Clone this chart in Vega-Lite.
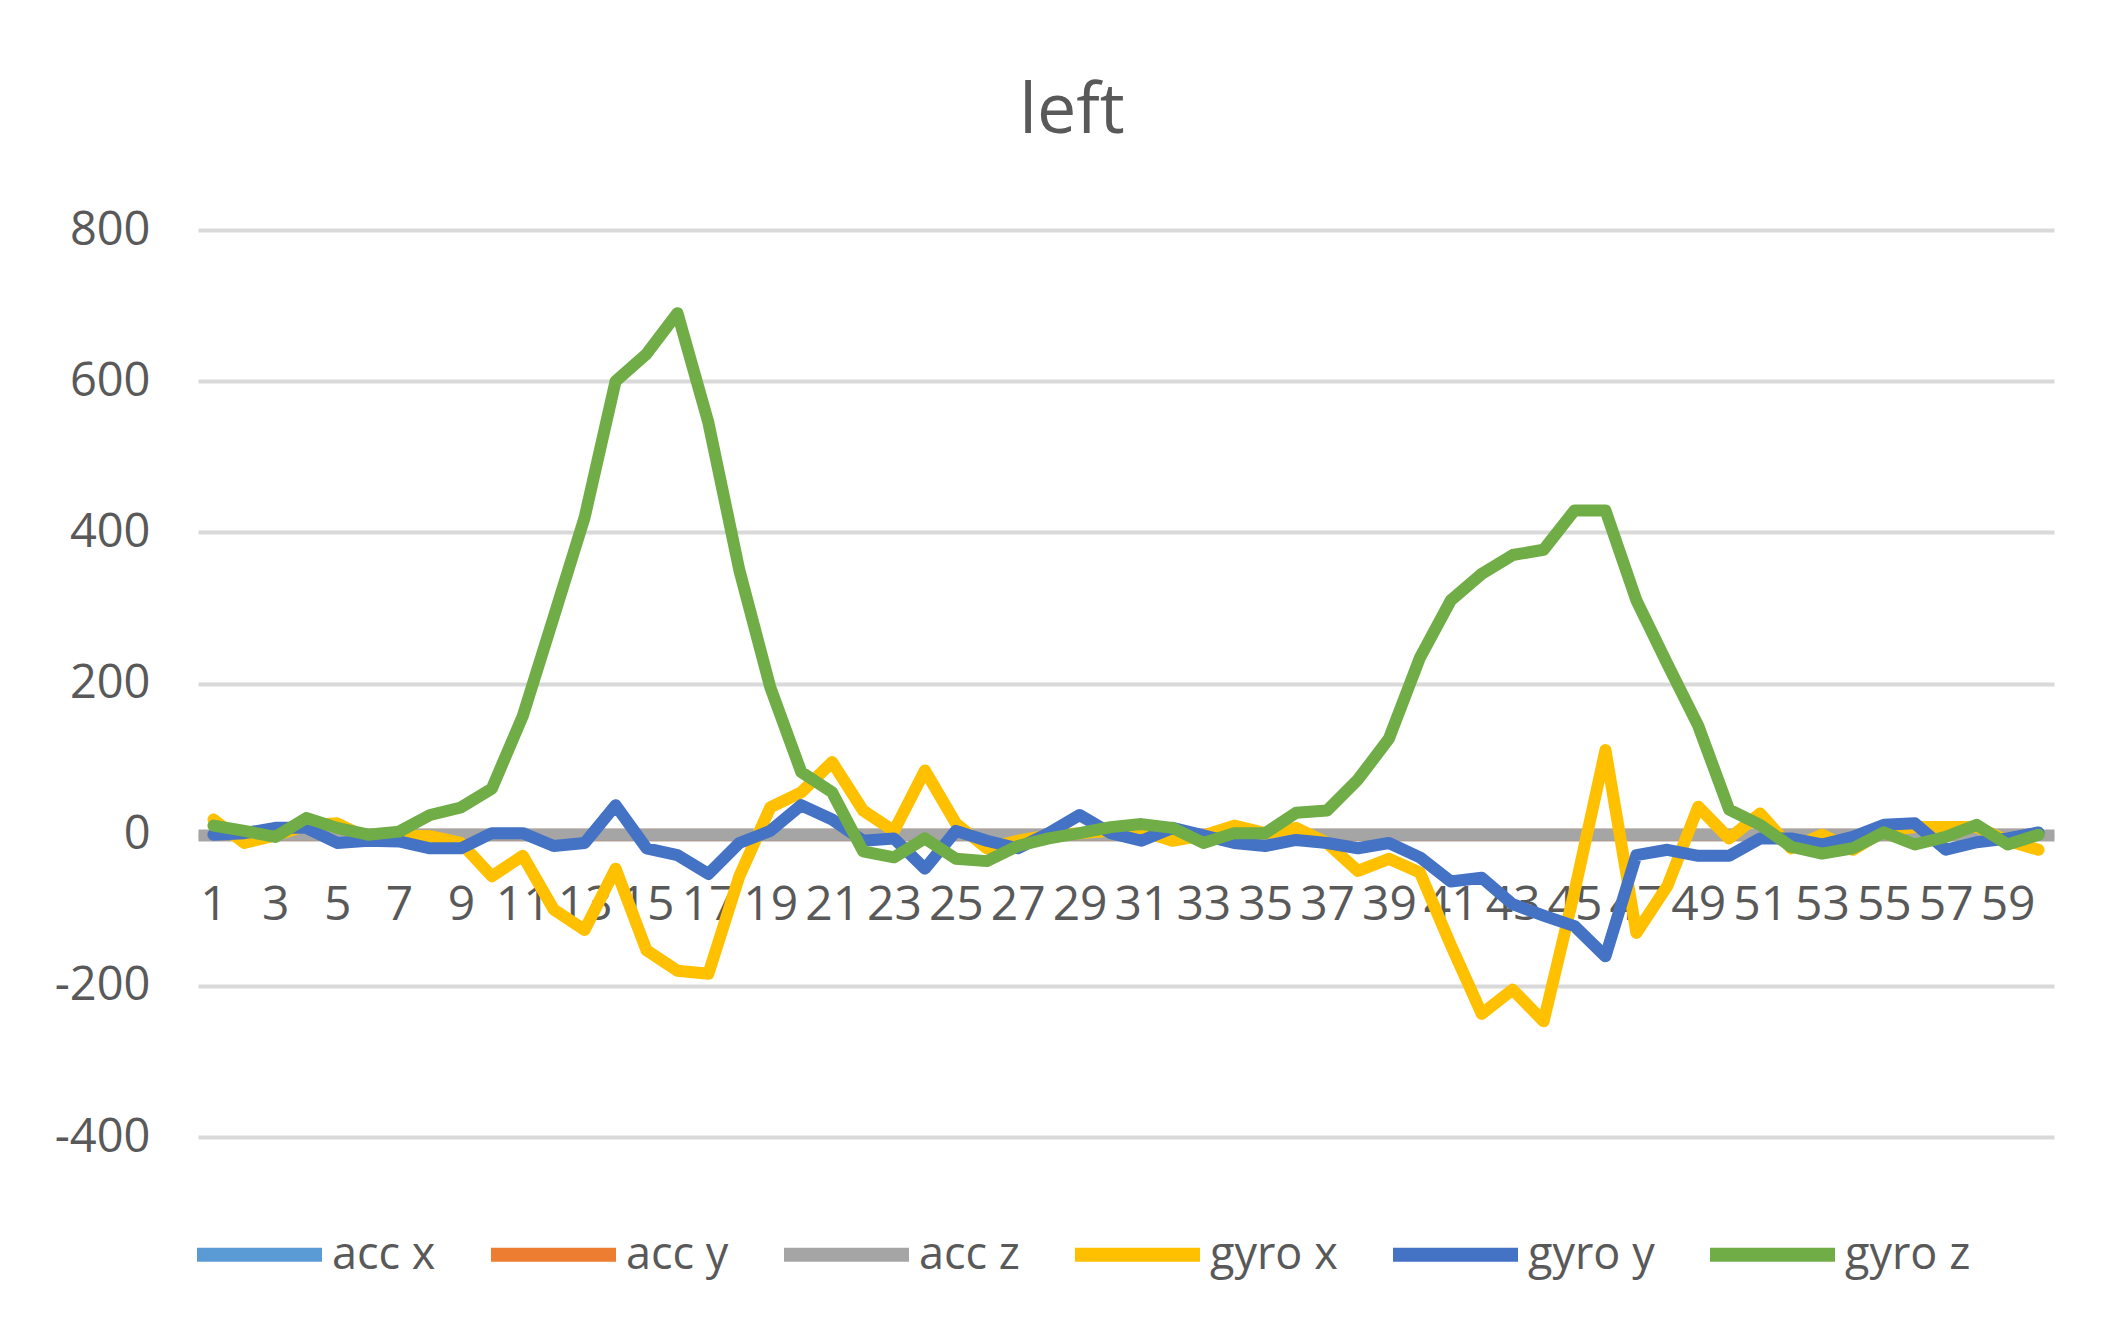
{
  "$schema": "https://vega.github.io/schema/vega-lite/v6.json",
  "width": 1856,
  "height": 907,
  "autosize": {"type": "none"},
  "padding": {"left": 198, "top": 230, "right": 56, "bottom": 192},
  "background": "white",
  "title": {"text": "left", "fontSize": 70, "font": "Open Sans", "color": "#595959", "fontWeight": "normal", "anchor": "middle", "frame": "group", "offset": 3, "baseline": "alphabetic", "dx": -54},
  "config": {"view": {"stroke": null}},
  "data": {"values": [
    {"t":1,"acc x":0,"acc y":0,"acc z":0,"gyro x":20,"gyro y":0,"gyro z":12},
    {"t":2,"acc x":0,"acc y":0,"acc z":0,"gyro x":-11,"gyro y":2,"gyro z":5},
    {"t":3,"acc x":0,"acc y":0,"acc z":0,"gyro x":-1,"gyro y":9,"gyro z":-3},
    {"t":4,"acc x":0,"acc y":0,"acc z":0,"gyro x":12,"gyro y":9,"gyro z":22},
    {"t":5,"acc x":0,"acc y":0,"acc z":0,"gyro x":15,"gyro y":-11,"gyro z":9},
    {"t":6,"acc x":0,"acc y":0,"acc z":0,"gyro x":-5,"gyro y":-8,"gyro z":0},
    {"t":7,"acc x":0,"acc y":0,"acc z":0,"gyro x":-1,"gyro y":-9,"gyro z":4},
    {"t":8,"acc x":0,"acc y":0,"acc z":0,"gyro x":-2,"gyro y":-18,"gyro z":26},
    {"t":9,"acc x":0,"acc y":0,"acc z":0,"gyro x":-11,"gyro y":-18,"gyro z":36},
    {"t":10,"acc x":0,"acc y":0,"acc z":0,"gyro x":-55,"gyro y":2,"gyro z":61},
    {"t":11,"acc x":0,"acc y":0,"acc z":0,"gyro x":-28,"gyro y":2,"gyro z":157},
    {"t":12,"acc x":0,"acc y":0,"acc z":0,"gyro x":-99,"gyro y":-15,"gyro z":288},
    {"t":13,"acc x":0,"acc y":0,"acc z":0,"gyro x":-126,"gyro y":-11,"gyro z":420},
    {"t":14,"acc x":0,"acc y":0,"acc z":0,"gyro x":-45,"gyro y":39,"gyro z":600},
    {"t":15,"acc x":0,"acc y":0,"acc z":0,"gyro x":-153,"gyro y":-18,"gyro z":636},
    {"t":16,"acc x":0,"acc y":0,"acc z":0,"gyro x":-180,"gyro y":-27,"gyro z":690},
    {"t":17,"acc x":0,"acc y":0,"acc z":0,"gyro x":-184,"gyro y":-52,"gyro z":545},
    {"t":18,"acc x":0,"acc y":0,"acc z":0,"gyro x":-55,"gyro y":-11,"gyro z":350},
    {"t":19,"acc x":0,"acc y":0,"acc z":0,"gyro x":36,"gyro y":5,"gyro z":195},
    {"t":20,"acc x":0,"acc y":0,"acc z":0,"gyro x":56,"gyro y":39,"gyro z":83},
    {"t":21,"acc x":0,"acc y":0,"acc z":0,"gyro x":96,"gyro y":20,"gyro z":56},
    {"t":22,"acc x":0,"acc y":0,"acc z":0,"gyro x":32,"gyro y":-8,"gyro z":-22},
    {"t":23,"acc x":0,"acc y":0,"acc z":0,"gyro x":5,"gyro y":-5,"gyro z":-30},
    {"t":24,"acc x":0,"acc y":0,"acc z":0,"gyro x":85,"gyro y":-45,"gyro z":-5},
    {"t":25,"acc x":0,"acc y":0,"acc z":0,"gyro x":15,"gyro y":5,"gyro z":-32},
    {"t":26,"acc x":0,"acc y":0,"acc z":0,"gyro x":-18,"gyro y":-8,"gyro z":-35},
    {"t":27,"acc x":0,"acc y":0,"acc z":0,"gyro x":-8,"gyro y":-18,"gyro z":-15},
    {"t":28,"acc x":0,"acc y":0,"acc z":0,"gyro x":-1,"gyro y":2,"gyro z":-5},
    {"t":29,"acc x":0,"acc y":0,"acc z":0,"gyro x":2,"gyro y":26,"gyro z":2},
    {"t":30,"acc x":0,"acc y":0,"acc z":0,"gyro x":5,"gyro y":2,"gyro z":10},
    {"t":31,"acc x":0,"acc y":0,"acc z":0,"gyro x":5,"gyro y":-8,"gyro z":14},
    {"t":32,"acc x":0,"acc y":0,"acc z":0,"gyro x":-8,"gyro y":9,"gyro z":9},
    {"t":33,"acc x":0,"acc y":0,"acc z":0,"gyro x":-1,"gyro y":-1,"gyro z":-11},
    {"t":34,"acc x":0,"acc y":0,"acc z":0,"gyro x":12,"gyro y":-11,"gyro z":2},
    {"t":35,"acc x":0,"acc y":0,"acc z":0,"gyro x":2,"gyro y":-15,"gyro z":2},
    {"t":36,"acc x":0,"acc y":0,"acc z":0,"gyro x":9,"gyro y":-7,"gyro z":29},
    {"t":37,"acc x":0,"acc y":0,"acc z":0,"gyro x":-11,"gyro y":-11,"gyro z":32},
    {"t":38,"acc x":0,"acc y":0,"acc z":0,"gyro x":-48,"gyro y":-18,"gyro z":73},
    {"t":39,"acc x":0,"acc y":0,"acc z":0,"gyro x":-32,"gyro y":-11,"gyro z":127},
    {"t":40,"acc x":0,"acc y":0,"acc z":0,"gyro x":-50,"gyro y":-30,"gyro z":234},
    {"t":41,"acc x":0,"acc y":0,"acc z":0,"gyro x":-146,"gyro y":-62,"gyro z":310},
    {"t":42,"acc x":0,"acc y":0,"acc z":0,"gyro x":-237,"gyro y":-57,"gyro z":345},
    {"t":43,"acc x":0,"acc y":0,"acc z":0,"gyro x":-205,"gyro y":-92,"gyro z":370},
    {"t":44,"acc x":0,"acc y":0,"acc z":0,"gyro x":-247,"gyro y":-107,"gyro z":377},
    {"t":45,"acc x":0,"acc y":0,"acc z":0,"gyro x":-75,"gyro y":-121,"gyro z":429},
    {"t":46,"acc x":0,"acc y":0,"acc z":0,"gyro x":112,"gyro y":-161,"gyro z":429},
    {"t":47,"acc x":0,"acc y":0,"acc z":0,"gyro x":-130,"gyro y":-27,"gyro z":310},
    {"t":48,"acc x":0,"acc y":0,"acc z":0,"gyro x":-68,"gyro y":-20,"gyro z":226},
    {"t":49,"acc x":0,"acc y":0,"acc z":0,"gyro x":37,"gyro y":-28,"gyro z":144},
    {"t":50,"acc x":0,"acc y":0,"acc z":0,"gyro x":-5,"gyro y":-28,"gyro z":33},
    {"t":51,"acc x":0,"acc y":0,"acc z":0,"gyro x":28,"gyro y":-5,"gyro z":13},
    {"t":52,"acc x":0,"acc y":0,"acc z":0,"gyro x":-18,"gyro y":-5,"gyro z":-16},
    {"t":53,"acc x":0,"acc y":0,"acc z":0,"gyro x":0,"gyro y":-13,"gyro z":-25},
    {"t":54,"acc x":0,"acc y":0,"acc z":0,"gyro x":-20,"gyro y":-3,"gyro z":-18},
    {"t":55,"acc x":0,"acc y":0,"acc z":0,"gyro x":5,"gyro y":13,"gyro z":3},
    {"t":56,"acc x":0,"acc y":0,"acc z":0,"gyro x":10,"gyro y":15,"gyro z":-13},
    {"t":57,"acc x":0,"acc y":0,"acc z":0,"gyro x":10,"gyro y":-20,"gyro z":-3},
    {"t":58,"acc x":0,"acc y":0,"acc z":0,"gyro x":10,"gyro y":-10,"gyro z":13},
    {"t":59,"acc x":0,"acc y":0,"acc z":0,"gyro x":-8,"gyro y":-5,"gyro z":-13},
    {"t":60,"acc x":0,"acc y":0,"acc z":0,"gyro x":-20,"gyro y":3,"gyro z":0}
  ]},
  "transform": [{"fold": ["acc x", "acc y", "acc z", "gyro x", "gyro y", "gyro z"], "as": ["series", "value"]}],
  "mark": {"type": "line", "strokeWidth": 12, "strokeCap": "round", "strokeJoin": "round"},
  "encoding": {
    "x": {"field": "t", "type": "quantitative",
      "scale": {"domain": [0.5, 60.5], "nice": false, "zero": false},
      "axis": {"values": [1,3,5,7,9,11,13,15,17,19,21,23,25,27,29,31,33,35,37,39,41,43,45,47,49,51,53,55,57,59],
        "title": null, "grid": false, "ticks": false, "offset": -302, "domain": true, "domainColor": "#A5A5A5", "domainWidth": 12,
        "labelPadding": 46, "labelFontSize": 48, "labelFont": "Open Sans", "labelColor": "#595959",
        "labelFlush": false, "labelOverlap": false, "labelBound": false}},
    "y": {"field": "value", "type": "quantitative",
      "scale": {"domain": [-400, 800], "nice": false},
      "axis": {"values": [-400,-200,0,200,400,600,800], "title": null, "grid": true, "gridColor": "#D9D9D9", "gridWidth": 4,
        "labelExpr": "'' + datum.value",
        "domain": false, "ticks": false, "labelPadding": 48, "labelFontSize": 47, "labelFont": "Open Sans", "labelColor": "#595959", "labelOverlap": false}},
    "color": {"field": "series", "type": "nominal",
      "scale": {"domain": ["acc x", "acc y", "acc z", "gyro x", "gyro y", "gyro z"],
        "range": ["#5B9BD5", "#ED7D31", "#A5A5A5", "#FFC000", "#4472C4", "#70AD47"]},
      "legend": {"orient": "none", "legendX": -8, "legendY": 955, "direction": "horizontal", "columns": 6, "gridAlign": "each",
        "symbolType": "stroke", "symbolSize": 15625, "symbolStrokeWidth": 14,
        "labelFontSize": 45, "labelFont": "Open Sans", "labelColor": "#595959", "labelOffset": 3,
        "columnPadding": 27, "title": null, "labelLimit": 0}}
  }
}
